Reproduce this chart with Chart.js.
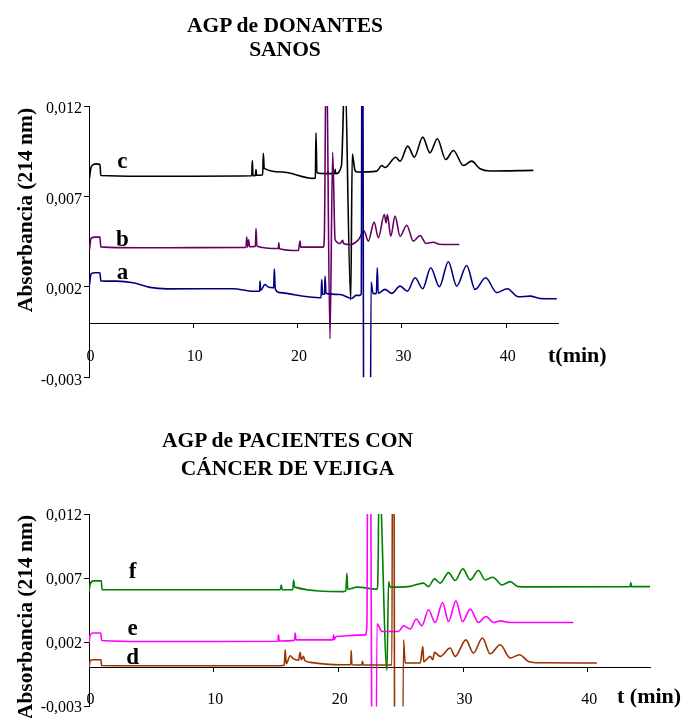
<!DOCTYPE html>
<html lang="es">
<head>
<meta charset="utf-8">
<title>AGP - electroferogramas</title>
<script src="https://cdn.jsdelivr.net/npm/chart.js@4.4.1/dist/chart.umd.min.js"></script>
<style>
  html, body { margin: 0; padding: 0; background: #fff; }
  #page { position: relative; width: 681px; height: 718px; overflow: hidden;
          font-family: "Liberation Serif", "Times New Roman", serif; color: #000; }
  #page canvas { position: absolute; left: 0; }
  .txt { position: absolute; font-weight: bold; white-space: nowrap; line-height: 24px; height: 24px; }
  .title { font-size: 21.5px; text-align: center; }
  .ytitle { font-size: 21.5px; width: 220px; text-align: center; transform: rotate(-90deg); }
  .tlabel { font-size: 22px; }
</style>
</head>
<body>
<div id="page">
  <canvas id="sanos" width="681" height="400" style="top:0;width:681px;height:400px"></canvas>
  <canvas id="vejiga" width="681" height="318" style="top:400px;width:681px;height:318px"></canvas>

  <div class="txt title" style="left:0;width:570px;top:13.4px">AGP de DONANTES</div>
  <div class="txt title" style="left:0;width:570px;top:36.5px">SANOS</div>
  <div class="txt ytitle" style="left:-85px;top:198px">Absorbancia (214 nm)</div>
  <div class="txt tlabel" style="left:548px;top:343px">t(min)</div>

  <div class="txt title" style="left:0;width:575px;top:427.5px">AGP de PACIENTES CON</div>
  <div class="txt title" style="left:0;width:575px;top:455.5px">CÁNCER DE VEJIGA</div>
  <div class="txt ytitle" style="left:-85px;top:605px">Absorbancia (214 nm)</div>
  <div class="txt tlabel" style="left:617px;top:684px">t (min)</div>
</div>

<script>
// ---- Healthy donors: migration time (min) and absorbance at 214 nm ----
const timeA = [0.05, 0.19, 0.58, 1.05, 1.13, 2.66, 4.22, 5.85, 7.48, 13.81, 15.75, 16.35, 16.4, 16.45, 16.87,
  17.16, 17.7, 17.77, 17.85, 18.31, 22.15, 22.25, 22.31, 22.39, 22.58, 22.63, 22.72, 24.07, 25.19, 25.6,
  25.98, 26.1, 26.2, 26.4, 26.9, 27.04, 27.23, 27.55, 27.64, 27.72, 28.38, 29.02, 29.82, 30.52, 31.26,
  31.99, 32.76, 33.59, 34.45, 35.25, 36.21, 37.01, 38.03, 39.09, 40.1, 41.16, 42.28, 43.24, 44.84];
const absA = [0.00213, 0.00271, 0.00278, 0.00278, 0.00233, 0.00232, 0.00223, 0.00197, 0.00189, 0.0019, 0.00176, 0.00176, 0.00232, 0.0018, 0.00213,
  0.002, 0.00195, 0.003, 0.0019, 0.00168, 0.0014, 0.0014, 0.00241, 0.00158, 0.0016, 0.00259, 0.00164, 0.00158, 0.00136, 0.00153,
  0.00153, 0.0016, 0.025, -0.02, -0.02, 0.00226, 0.00164, 0.00162, 0.00306, 0.00165, 0.00186, 0.00164, 0.00204, 0.00176, 0.0025,
  0.0019, 0.00306, 0.00201, 0.00339, 0.00204, 0.00318, 0.00186, 0.0025, 0.00168, 0.0019, 0.00145, 0.00149, 0.00136, 0.00134];

const timeB = [0.05, 0.19, 0.58, 1.05, 1.13, 5, 10, 15.05, 15.12, 15.2, 15.3, 15.4, 15.95, 16.01, 16.1,
  18.15, 18.2, 18.25, 20.07, 20.23, 20.3, 22.46, 22.56, 22.75, 23.1, 23.36, 23.59, 24.07, 24.32, 24.4,
  25.02, 25.82, 26.37, 26.78, 27.33, 27.74, 28.31, 28.48, 28.6, 28.93, 29.34, 29.82, 30.46, 31.09, 31.74,
  32.31, 33.01, 33.6, 35.5];
const absB = [0.00407, 0.00468, 0.00475, 0.00475, 0.00421, 0.00416, 0.00417, 0.00418, 0.00475, 0.0042, 0.0046, 0.00422, 0.00424, 0.00523, 0.00425,
  0.00412, 0.00444, 0.00411, 0.00401, 0.00453, 0.0042, 0.0042, 0.00473, 0.016, -0.00087, 0.00945, 0.00462, 0.0044, 0.00458, 0.0044,
  0.00434, 0.0046, 0.00508, 0.00453, 0.00558, 0.00472, 0.006, 0.00554, 0.006, 0.0048, 0.00591, 0.0048, 0.00541, 0.00453, 0.00484,
  0.0044, 0.00447, 0.00436, 0.00434];

const timeC = [0.05, 0.19, 0.38, 0.67, 1.05, 1.13, 5, 10, 15.6, 15.66, 15.72, 15.95, 16.01, 16.07, 16.65,
  16.71, 16.8, 18.5, 21.5, 21.7, 21.76, 21.85, 22.85, 22.9, 22.95, 23.55, 23.6, 23.65, 24.2, 24.35,
  24.5, 25.09, 25.24, 25.5, 25.7, 27.58, 28.06, 28.38, 29.41, 29.82, 30.56, 31.19, 31.99, 32.69, 33.39,
  34.2, 34.93, 35.89, 36.69, 37.49, 38.45, 42.6];
const absC = [0.00803, 0.0086, 0.00874, 0.0088, 0.00877, 0.00816, 0.00812, 0.00812, 0.00814, 0.00899, 0.00815, 0.00816, 0.00849, 0.00817, 0.0082,
  0.00938, 0.00855, 0.00835, 0.008, 0.00802, 0.01052, 0.00831, 0.00826, 0.0084, 0.00826, 0.00826, 0.0085, 0.00826, 0.0087, 0.011,
  0.0146, 0.00128, 0.00935, 0.00844, 0.00835, 0.0084, 0.00871, 0.0086, 0.00917, 0.00895, 0.00978, 0.00917, 0.01028, 0.00941, 0.01019,
  0.00904, 0.00954, 0.00871, 0.00895, 0.00853, 0.00841, 0.00844];

// ---- Bladder cancer patients ----
const timeD = [0, 0.1, 0.34, 0.96, 1.01, 5, 10, 15.34, 15.66, 15.74, 15.82, 16.14, 16.38, 16.8, 16.94,
  17.02, 17.21, 17.3, 17.75, 20.15, 21.0, 21.03, 21.09, 21.88, 21.94, 22.0, 24.3, 24.38, 24.62, 25.0,
  25.23, 25.36, 26.57, 26.78, 26.85, 27.37, 27.57, 27.71, 28.17, 28.97, 29.37, 30.23, 30.84, 31.56, 32.18,
  32.98, 33.79, 34.53, 35.25, 36.19, 40.74];
const absD = [0, 0.00056, 0.00064, 0.00064, 0.00019, 0.00017, 0.00017, 0.00017, 0.0002, 0.00142, 0.00033, 0.00095, 0.00072, 0.0006, 0.00121,
  0.00064, 0.0009, 0.0006, 0.00043, 0.00025, 0.00025, 0.00136, 0.00025, 0.00023, 0.00051, 0.00023, 0.00023, 0.04, -0.04, -0.04,
  0.00219, 0.00038, 0.00038, 0.00167, 0.00048, 0.0009, 0.00064, 0.00121, 0.0009, 0.00155, 0.0009, 0.00219, 0.00116, 0.00233, 0.0011,
  0.00181, 0.00077, 0.00103, 0.00051, 0.0004, 0.00038];

const timeE = [0, 0.1, 0.34, 0.95, 1.01, 5, 10, 15.15, 15.2, 15.26, 16.48, 16.54, 16.6, 19.56, 19.62,
  19.68, 19.83, 22.16, 22.29, 22.42, 22.9, 23.1, 23.5, 24.83, 25.23, 25.77, 26.25, 26.7, 27.23, 27.77,
  28.36, 28.84, 29.43, 29.96, 30.58, 31.24, 31.84, 32.45, 32.98, 33.79, 38.86];
const absE = [0.00194, 0.00258, 0.00272, 0.00272, 0.00214, 0.00206, 0.00206, 0.00208, 0.00258, 0.0021, 0.00215, 0.00272, 0.00219, 0.00219, 0.00258,
  0.00222, 0.00245, 0.00258, 0.00323, 0.04, -0.04, 0.00344, 0.00284, 0.00284, 0.00328, 0.00303, 0.00381, 0.00328, 0.00453, 0.00354,
  0.0051, 0.00362, 0.00523, 0.00362, 0.00458, 0.00354, 0.00401, 0.00354, 0.00367, 0.00354, 0.00354];

const timeF = [0, 0.1, 0.34, 0.99, 1.04, 5, 10, 15.34, 15.42, 15.5, 16.35, 16.41, 16.5, 20.42, 20.6,
  20.69, 20.75, 21.5, 23.1, 23.16, 23.28, 23.9, 24.03, 24.16, 24.83, 25.77, 26.83, 27.23, 27.71, 28.17,
  28.84, 29.37, 29.99, 30.58, 31.24, 31.78, 32.4, 33.12, 33.78, 34.43, 35.39, 43.4, 43.46, 43.52, 45];
const absF = [0.00595, 0.00655, 0.00679, 0.00679, 0.00609, 0.00609, 0.00609, 0.00609, 0.00647, 0.0061, 0.0061, 0.00686, 0.0063, 0.00595, 0.006,
  0.00738, 0.00614, 0.0063, 0.00614, 0.00647, 0.015, -0.00019, 0.00673, 0.0063, 0.0063, 0.00636, 0.00661, 0.00634, 0.00694, 0.00661,
  0.00743, 0.00681, 0.00772, 0.00686, 0.00759, 0.00686, 0.00707, 0.00647, 0.00673, 0.00634, 0.00632, 0.00634, 0.00665, 0.00634, 0.00634];

// Axis ticks
const timeTicks = [0, 10, 20, 30, 40];
const absTicks = [-0.003, 0.002, 0.007, 0.012];

// Trace letters and where they sit (time, absorbance of the letter baseline)
const namesTop = ['a', 'b', 'c'];
const tagTimeTop = [3.2, 3.2, 3.2];
const tagAbsTop = [0.00241, 0.00425, 0.00859];
const namesBottom = ['d', 'e', 'f'];
const tagTimeBottom = [3.5, 3.5, 3.5];
const tagAbsBottom = [0.00033, 0.00258, 0.00702];

const serif = '"Liberation Serif", "Times New Roman", serif';
Chart.defaults.font.family = serif;
Chart.defaults.color = '#000';

function trace(label, times, values, color, tagT, tagV) {
  return {
    label,
    data: times.map((t, i) => ({ x: t, y: values[i] })),
    borderColor: color,
    borderWidth: 1.6,
    pointRadius: 0,
    fill: false,
    cubicInterpolationMode: 'monotone',
    tag: { t: tagT, v: tagV }
  };
}

// Writes each trace's letter next to its baseline
const traceTags = {
  id: 'traceTags',
  afterDatasetsDraw(chart) {
    const { ctx, scales } = chart;
    ctx.save();
    ctx.font = 'bold 23px ' + serif;
    ctx.fillStyle = '#000';
    ctx.textAlign = 'center';
    ctx.textBaseline = 'alphabetic';
    chart.data.datasets.forEach(ds => {
      ctx.fillText(ds.label, scales.x.getPixelForValue(ds.tag.t), scales.y.getPixelForValue(ds.tag.v));
    });
    ctx.restore();
  }
};

function panelOptions(padding, xLabelPad, yLabelShift) {
  return {
    responsive: false,
    animation: false,
    layout: { padding },
    plugins: { legend: { display: false }, tooltip: { enabled: false } },
    scales: {
      x: {
        type: 'linear', min: 0, max: 45,
        position: { y: 0 },
        afterBuildTicks: s => { s.ticks = timeTicks.map(v => ({ value: v })); },
        grid: { drawOnChartArea: false, drawTicks: true, tickLength: 4, color: '#000' },
        border: { display: true, color: '#000', width: 1 },
        ticks: { font: { size: 16 }, color: '#000', padding: xLabelPad, maxRotation: 0, autoSkip: false,
                 labelOffset: 1.5, callback: v => String(v) }
      },
      y: {
        type: 'linear', min: -0.003, max: 0.012,
        afterBuildTicks: s => { s.ticks = absTicks.map(v => ({ value: v })); },
        afterFit: s => { s.width = 89; },
        grid: { drawOnChartArea: false, drawTicks: true, tickLength: 5, color: '#000' },
        border: { display: true, color: '#000', width: 1 },
        ticks: { font: { size: 16 }, color: '#000', padding: 2, autoSkip: false, labelOffset: yLabelShift,
                 callback: v => Number(v).toFixed(3).replace('.', ',') }
      }
    }
  };
}

new Chart(document.getElementById('sanos'), {
  type: 'line',
  data: {
    datasets: [
      trace(namesTop[0], timeA, absA, '#000080', tagTimeTop[0], tagAbsTop[0]),
      trace(namesTop[1], timeB, absB, '#660066', tagTimeTop[1], tagAbsTop[1]),
      trace(namesTop[2], timeC, absC, '#000000', tagTimeTop[2], tagAbsTop[2])
    ]
  },
  options: panelOptions({ left: 0, top: 106, right: 122.6, bottom: 22.7 }, 20, 3),
  plugins: [traceTags]
});

new Chart(document.getElementById('vejiga'), {
  type: 'line',
  data: {
    datasets: [
      trace(namesBottom[0], timeD, absD, '#993300', tagTimeBottom[0], tagAbsBottom[0]),
      trace(namesBottom[1], timeE, absE, '#ff00ff', tagTimeBottom[1], tagAbsBottom[1]),
      trace(namesBottom[2], timeF, absF, '#008000', tagTimeBottom[2], tagAbsBottom[2])
    ]
  },
  options: panelOptions({ left: 0, top: 114, right: 31, bottom: 11.3 }, 18, 1.5),
  plugins: [traceTags]
});
</script>
</body>
</html>
